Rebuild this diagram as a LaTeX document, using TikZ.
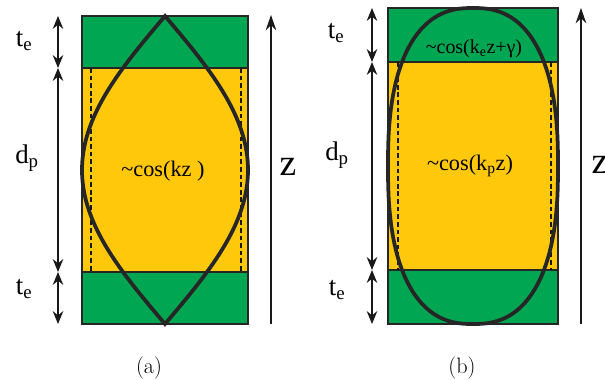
\documentclass[tikz,border=0pt]{standalone}
\usepackage{fontspec}
\setmainfont{LiberationSerif}[Extension=.ttf, UprightFont=*-Regular,
    BoldFont=*-Bold, ItalicFont=*-Italic, BoldItalicFont=*-BoldItalic]
\usetikzlibrary{arrows.meta}
\definecolor{cladgreen}{RGB}{0,166,81}
\definecolor{coreyellow}{RGB}{255,200,10}
\begin{document}
\begin{tikzpicture}[
    x=0.03cm, y=-0.03cm,
    declare function={
        wa(\x)=83*cos(\x/154*90);
        sx(\x)=85*pow(abs(cos(\x)),0.816);
        sy(\x)=158*sign(sin(\x))*pow(abs(sin(\x)),0.816);
    },
    mirror/.style={draw=black!85, line width=1.1pt, fill=cladgreen},
    core/.style={draw=black!85, line width=1.1pt, fill=coreyellow},
    guide/.style={draw=black!90, dash pattern=on 4pt off 2.5pt, line width=1.6pt},
    wave/.style={draw=black!85, line width=3.2pt, line join=miter},
    dimarr/.style={
        {Stealth[length=11pt,width=9pt]}-{Stealth[length=11pt,width=9pt]},
        line width=1.2pt, draw=black!90
    },
    zarr/.style={-{Stealth[length=13pt,width=9pt]}, line width=1pt, draw=black!90},
    lbl/.style={anchor=base, inner sep=0pt, font=\fontsize{23}{27}\selectfont},
    zlbl/.style={anchor=base, inner sep=0pt, font=\fontsize{32}{36}\selectfont},
    field/.style={anchor=base, inner sep=0pt, font=\fontsize{19}{23}\selectfont},
    caption/.style={anchor=base, inner sep=0pt,
        font=\fontfamily{lmr}\fontsize{19}{23}\selectfont}
]
\useasboundingbox (0,0) rectangle (605,379);

% (a) layers
\draw[mirror] (82,16)  rectangle (248,68);
\draw[core]   (82,68)  rectangle (248,272);
\draw[mirror] (82,272) rectangle (248,324);
\draw[guide] (91,68) -- (91,272);
\draw[guide] (241,68) -- (241,272);
\draw[wave] plot[domain=-154:154, samples=101] ({165+wa(\x)},{170+\x})
    -- plot[domain=154:-154, samples=101] ({165-wa(\x)},{170+\x}) -- cycle;

% (b) layers
\draw[mirror] (388,8)   rectangle (558,62);
\draw[core]   (388,62)  rectangle (558,270);
\draw[mirror] (388,270) rectangle (558,324);
\draw[guide] (398,62) -- (398,270);
\draw[guide] (551,62) -- (551,270);
\draw[wave] plot[domain=-90:90, samples=121, smooth] ({473+sx(\x)},{166+sy(\x)})
    -- plot[domain=90:-90, samples=121, smooth] ({473-sx(\x)},{166+sy(\x)}) -- cycle;

% Cotas (a)
\coordinate (aTop) at (58,16);
\coordinate (aUp)  at (58,68);
\coordinate (aLow) at (58,272);
\coordinate (aBot) at (58,324);
\draw[dimarr] (aTop) -- (aUp);
\draw[dimarr] (aUp)  -- (aLow);
\draw[dimarr] (aLow) -- (aBot);

% Cotas (b)
\coordinate (bTop) at (372,8);
\coordinate (bUp)  at (372,62);
\coordinate (bLow) at (372,270);
\coordinate (bBot) at (372,324);
\draw[dimarr] (bTop) -- (bUp);
\draw[dimarr] (bUp)  -- (bLow);
\draw[dimarr] (bLow) -- (bBot);

% Eixos z
\coordinate (zaFoot) at (271,324);
\coordinate (zaHead) at (271,15);
\coordinate (zbFoot) at (581,324);
\coordinate (zbHead) at (581,8);
\draw[zarr] (zaFoot) -- (zaHead);
\draw[zarr] (zbFoot) -- (zbHead);

% Rotulos
\node[lbl] (teTopA) at (24,46)  {t\textsubscript{e}};
\node[lbl] (dpA)    at (27,163) {d\textsubscript{p}};
\node[lbl] (teBotA) at (24,294) {t\textsubscript{e}};
\node[lbl] (teTopB) at (336,38) {t\textsubscript{e}};
\node[lbl] (dpB)    at (337,160) {d\textsubscript{p}};
\node[lbl] (teBotB) at (337,295) {t\textsubscript{e}};
\node[zlbl] (zA) at (288,175) {z};
\node[zlbl] (zB) at (600,173) {z};

\node[field] (cosA)  at (163,176) {\textasciitilde cos(kz )};
\node[field] (cosB)  at (470,170) {\textasciitilde cos(k\textsubscript{p}z)};
\node[field, font=\fontsize{17}{20}\selectfont] (cosE) at (474,53)
    {\textasciitilde cos(k\textsubscript{e}z+γ)};

\node[caption] (capA) at (149,373) {(a)};
\node[caption] (capB) at (462,373) {(b)};

\end{tikzpicture}
\end{document}
